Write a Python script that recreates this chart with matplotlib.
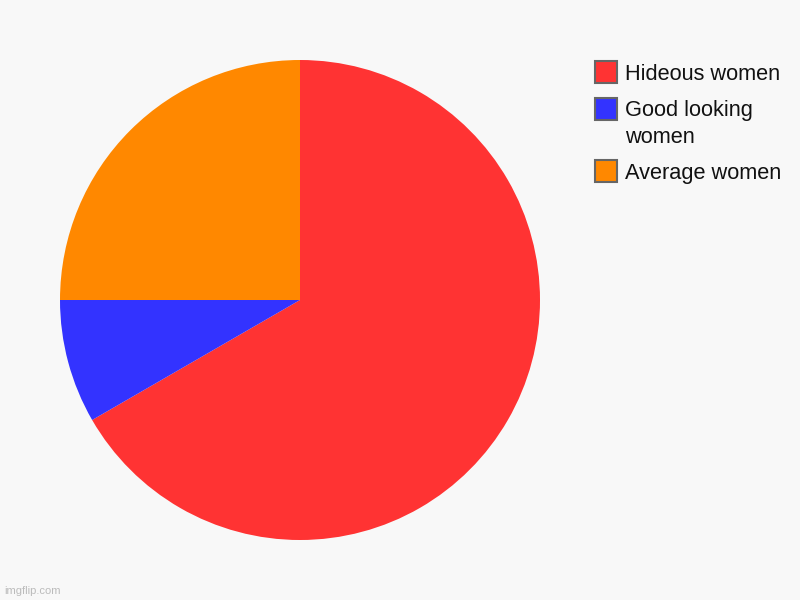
"""Pie chart of three categories with a side legend, imgflip style."""

import matplotlib

matplotlib.use("Agg")
import matplotlib.pyplot as plt
from matplotlib.patches import Rectangle

LABELS = ["Hideous women", "Good looking\nwomen", "Average women"]
VALUES = [8, 1, 3]
COLORS = ["#FF3333", "#3333FF", "#FF8800"]
BACKGROUND = "#F8F8F8"

W, H = 800, 600


def main() -> None:
    plt.rcParams["font.family"] = ["Liberation Sans", "DejaVu Sans"]
    fig = plt.figure(figsize=(W / 100, H / 100), dpi=100, facecolor=BACKGROUND)

    # pie centred at (300, 300) px with radius 240 px
    ax = fig.add_axes([60 / W, 60 / H, 480 / W, 480 / H])
    ax.set_facecolor(BACKGROUND)
    ax.pie(
        VALUES,
        colors=COLORS,
        startangle=90,
        counterclock=False,
        radius=1.0,
        wedgeprops={"linewidth": 0},
    )
    ax.set_xlim(-1, 1)
    ax.set_ylim(-1, 1)
    ax.set_aspect("equal")
    ax.axis("off")

    # legend drawn by hand in pixel coordinates (y measured from the top)
    box_centres = [72, 109, 171]
    text_centres = [75, 124, 174]
    for box_y, text_y, label, color in zip(box_centres, text_centres, LABELS, COLORS):
        fig.patches.append(
            Rectangle(
                (595 / W, 1 - (box_y + 11) / H),
                22 / W,
                22 / H,
                transform=fig.transFigure,
                facecolor=color,
                edgecolor="#666666",
                linewidth=1.5,
            )
        )
        fig.text(
            625 / W,
            1 - text_y / H,
            label,
            fontsize=15.7,
            color="#111111",
            ha="left",
            va="center",
            linespacing=1.35,
        )

    fig.text(4 / W, 1 - 591 / H, "imgflip.com", fontsize=8, color="#BBBBBB",
             ha="left", va="center")

    fig.savefig("out.png", dpi=100, facecolor=BACKGROUND)
    plt.close(fig)


if __name__ == "__main__":
    main()
